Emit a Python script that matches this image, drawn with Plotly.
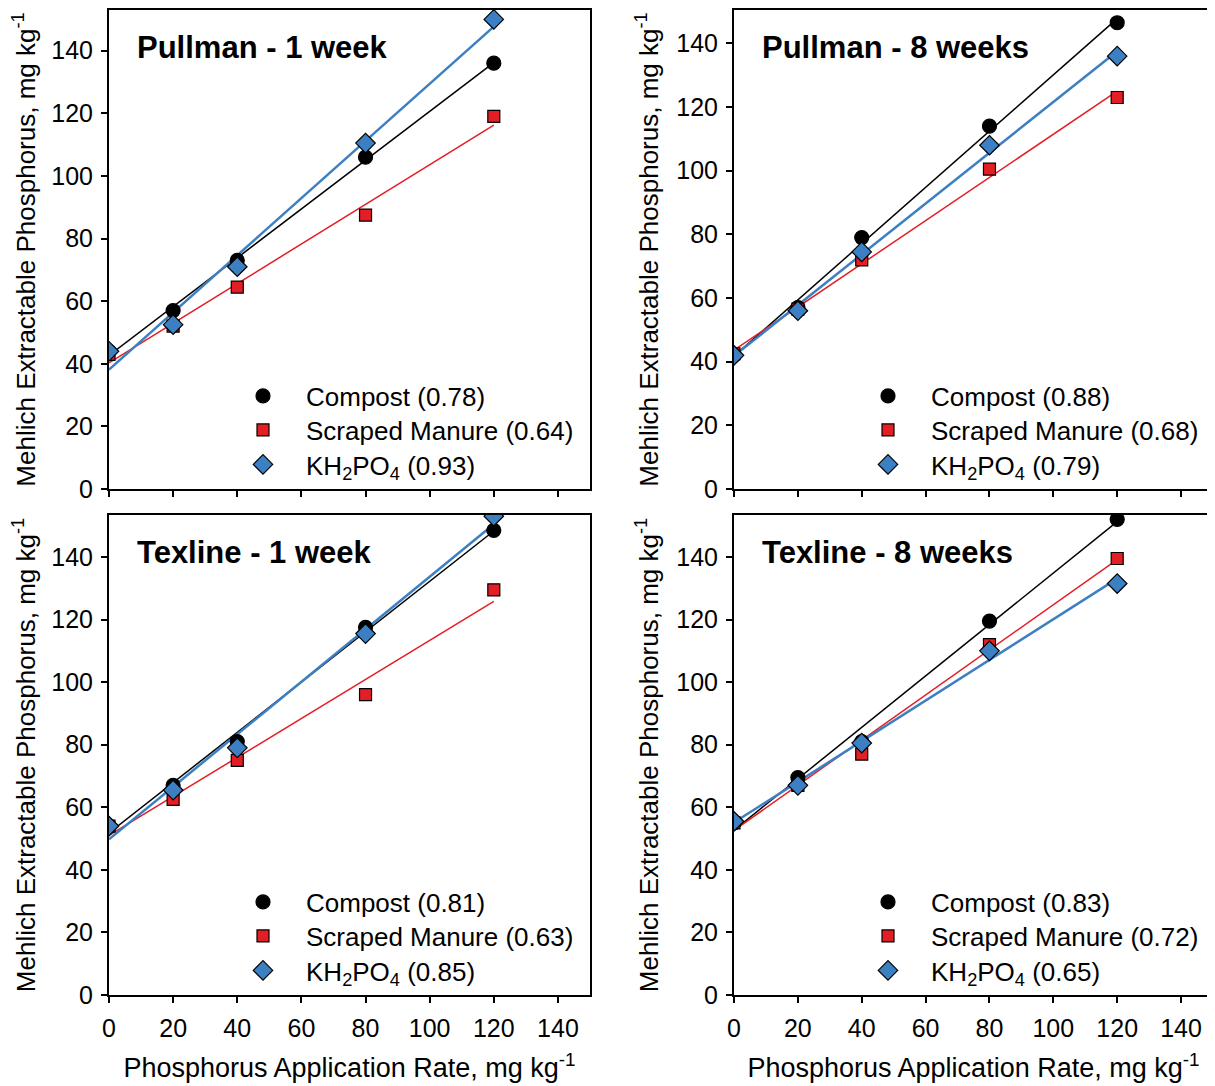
import numpy as np
import plotly.graph_objects as go

# ---------------- data ----------------
rates = [0, 20, 40, 80, 120]

panel_titles = ["Pullman - 1 week", "Pullman - 8 weeks", "Texline - 1 week", "Texline - 8 weeks"]

compost = [
    [44, 57, 73, 106, 136],
    [42, 57, 79, 114, 146.5],
    [54, 67, 81, 117.5, 148.5],
    [55, 69.5, 81, 119.5, 152],
]
manure = [
    [43, 52, 64.5, 87.5, 119],
    [42.5, 56.5, 72, 100.5, 123],
    [54, 62.5, 75, 96, 129.5],
    [55, 67, 77, 112, 139.5],
]
kh2po4 = [
    [44, 52.5, 71, 110.5, 150],
    [42, 56, 74.5, 108, 136],
    [54, 65.5, 79, 115.5, 153],
    [55.5, 67, 80.5, 110, 131.5],
]
slopes_compost = ["0.78", "0.88", "0.81", "0.83"]
slopes_manure = ["0.64", "0.68", "0.63", "0.72"]
slopes_kh2po4 = ["0.93", "0.79", "0.85", "0.65"]

y_max = [153, 150.5, 153.4, 153.4]
tick_vals = [0, 20, 40, 60, 80, 100, 120, 140]

# ---------------- geometry (window pixel coords; page body has 8px margin) ----------------
OFF = 8
WIN_W, WIN_H = 1215, 1086
W, H = WIN_W - OFF, WIN_H - OFF
PLOT_L, PLOT_R, PLOT_T, PLOT_B = 109, 1213, 10, 995
ML, MR, MT, MB = PLOT_L - OFF, WIN_W - PLOT_R, PLOT_T - OFF, WIN_H - PLOT_B
PW, PH = PLOT_R - PLOT_L, PLOT_B - PLOT_T

def px2x(p):
    return (p - PLOT_L) / PW

def px2y(p):
    return (PLOT_B - p) / PH

x_domains = [[0, px2x(590)], [px2x(734), 1.0]]
y_domains = [[px2y(489), 1.0], [0.0, px2y(515)]]

BLACK = "#000000"
RED = "#E41E25"
BLUE = "#3C7FC2"
FONT = "Liberation Sans, Arial, sans-serif"

fig = go.Figure()

series = [
    ("Compost", compost, slopes_compost, BLACK, "circle", 14, 1.5),
    ("Scraped Manure", manure, slopes_manure, RED, "square", 12, 1.5),
    ("KH<sub>2</sub>PO<sub>4</sub>", kh2po4, slopes_kh2po4, BLUE, "diamond", 15, 2.5),
]

legend_x = [220, 845, 220, 845]
legend_rows_top = [396, 430, 464.5]
row_shift = [0, 0, 506, 506]

legend_layouts = {}
leg_idx = 0
for i in range(4):
    ax = "" if i == 0 else str(i + 1)
    xa, ya = "x" + ax, "y" + ax
    # regression lines
    for name, data, slopes, color, sym, size, lw in series:
        k, b = np.polyfit(rates, data[i], 1)
        xs = [rates[0], rates[-1]]
        fig.add_trace(go.Scatter(
            x=xs, y=[b + k * v for v in xs], mode="lines",
            line=dict(color=color, width=lw), showlegend=False,
            xaxis=xa, yaxis=ya, hoverinfo="skip"))
    # markers (one legend per entry for exact row placement)
    for j, (name, data, slopes, color, sym, size, lw) in enumerate(series):
        leg_idx += 1
        leg = "legend" if leg_idx == 1 else "legend" + str(leg_idx)
        fig.add_trace(go.Scatter(
            x=rates, y=data[i], mode="markers",
            marker=dict(symbol=sym, size=size, color=color,
                        line=dict(color="#000000", width=1.2)),
            name=f"{name} ({slopes[i]})", legend=leg,
            xaxis=xa, yaxis=ya))
        legend_layouts[leg] = dict(
            x=px2x(legend_x[i]), y=px2y(legend_rows_top[j] + row_shift[i]),
            xanchor="left", yanchor="middle",
            bgcolor="rgba(0,0,0,0)", borderwidth=0, itemwidth=76,
            font=dict(size=26, family=FONT, color="#000000"),
        )

layout = dict(
    width=W, height=H,
    margin=dict(l=ML, r=MR, t=MT, b=MB, autoexpand=False),
    plot_bgcolor="white", paper_bgcolor="white",
    font=dict(family=FONT, size=25, color="#000000"),
    showlegend=True,
)
layout.update(legend_layouts)

for i in range(4):
    ax = "" if i == 0 else str(i + 1)
    col, row = i % 2, i // 2
    xaxis = dict(
        domain=x_domains[col], range=[0, 150], anchor="y" + ax,
        tickvals=tick_vals, ticks="outside", ticklen=6, tickwidth=1.5,
        tickcolor="#000000", showline=True, linecolor="#000000", linewidth=2,
        mirror=True, showgrid=False, zeroline=False,
        showticklabels=(row == 1), tickfont=dict(size=25),
        ticklabelstandoff=4,
    )
    if row == 1:
        xaxis["title"] = dict(text="Phosphorus Application Rate, mg kg<sup>-1</sup>",
                              font=dict(size=27), standoff=17)
    yaxis = dict(
        domain=y_domains[row], range=[0, y_max[i]], anchor="x" + ax,
        tickvals=tick_vals, ticks="outside", ticklen=6, tickwidth=1.5,
        tickcolor="#000000", showline=True, linecolor="#000000", linewidth=2,
        mirror=True, showgrid=False, zeroline=False, tickfont=dict(size=25),
        ticklabelstandoff=3,
        title=dict(text="Mehlich Extractable Phosphorus, mg kg<sup>-1</sup>",
                   font=dict(size=26), standoff=10),
    )
    layout["xaxis" + ax] = xaxis
    layout["yaxis" + ax] = yaxis

fig.update_layout(**layout)

for i in range(4):
    ax = "" if i == 0 else str(i + 1)
    fig.add_annotation(
        text=f"<b>{panel_titles[i]}</b>", xref=f"x{ax} domain", yref=f"y{ax} domain",
        x=0.055, y=1 - 37 / 479, xanchor="left", yanchor="middle",
        showarrow=False, font=dict(size=31, family=FONT, color="#000000"))

fig.write_html("out.html")
